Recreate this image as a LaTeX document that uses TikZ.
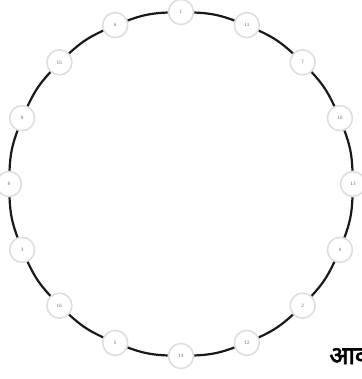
\documentclass[tikz,border=0pt]{standalone}
\usepackage{fontspec}
\newfontfamily\devfont[Script=Devanagari, AutoFakeBold=2.5]{Noto Sans}
\usetikzlibrary{positioning}
\begin{document}
\begin{tikzpicture}[x=1bp, y=1bp,
		vertex/.style={circle, draw=black!13, line width=1.6bp, fill=white, minimum size=25bp, inner sep=0pt, font=\sffamily\fontsize{5}{5}\selectfont, text=black!55},
		edge/.style={line width=2.2bp, black!90, bend left=9}
		]
		\useasboundingbox (0,0) rectangle (362,379);
		
		% Vertices around the ring
		\foreach \lab [count=\i] in {1,11,7,10,13,4,2,12,14,5,16,3,8,9,15,6}
		\node[vertex] (n\i) at ({181+172*cos(90-(\i-1)*22.5)}, {195+172*sin(90-(\i-1)*22.5)}) {\lab};
		
		% Ring edges
		\foreach \i [remember=\i as \j (initially 16)] in {1,...,16}
		\draw[edge] (n\j) to (n\i);
		
		% Caption
		\node[anchor=base west, font=\devfont\bfseries\fontsize{25}{30}\selectfont] (cap) at (326,15) {आव};
		
	\end{tikzpicture}
\end{document}
